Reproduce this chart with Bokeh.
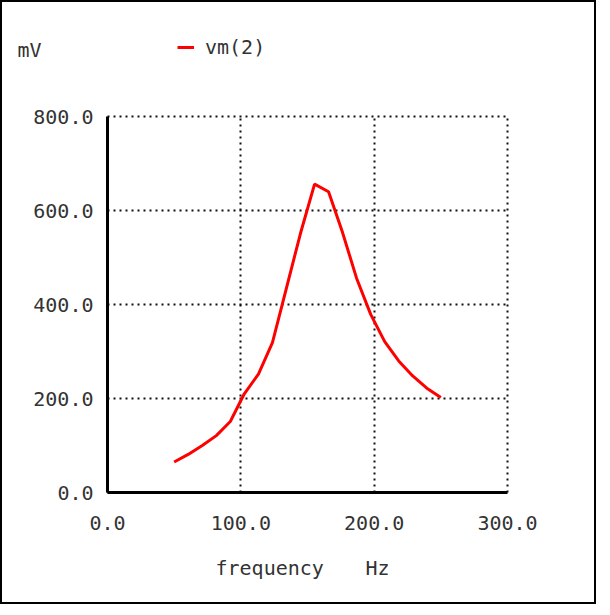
from bokeh.plotting import figure
from bokeh.models import Label, FixedTicker, Range1d, Legend, LegendItem, LinearAxis, Grid
from bokeh.embed import file_html
from bokeh.resources import INLINE

# data (AC sweep, 20 linear points from 50 to 250 Hz)
freq = [50.0, 60.5, 71.1, 81.6, 92.1, 102.6, 113.2, 123.7, 134.2, 144.7,
        155.3, 165.8, 176.3, 186.8, 197.4, 207.9, 218.4, 228.9, 239.5, 250.0]
vm2 = [65, 81, 100, 121, 151, 210, 252, 319, 435, 551,
       656, 640, 553, 456, 379, 321, 280, 248, 222, 202]
x_ticks = [0, 100, 200, 300]
y_ticks = [0, 200, 400, 600, 800]
x_label = "frequency"
x_unit = "Hz"
y_unit = "mV"
series_name = "vm(2)"

FONT = "DejaVu Sans Mono"
FS = "20px"
TXT = "#333333"

W, H = 596, 604
x0, x1 = x_ticks[0], x_ticks[-1]
y0, y1 = y_ticks[0], y_ticks[-1]
# frame covers the whole canvas; the data box sits inside it
px_left, px_w = 105, 400   # canvas px of x=0 and width of 0..300
py_top, py_h = 114, 376    # canvas px of y=800 and height of 0..800
sx = (x1 - x0) / px_w
sy = (y1 - y0) / py_h
xr = Range1d(x0 - px_left * sx, x0 + (W - px_left) * sx)
yr = Range1d(y0 - (H - py_top - py_h) * sy, y1 + py_top * sy)

p = figure(width=W, height=H, output_backend="svg", toolbar_location=None,
           x_range=xr, y_range=yr, x_axis_location=None, y_axis_location=None,
           min_border=0, min_border_left=0, min_border_right=0,
           min_border_top=0, min_border_bottom=0)
p.styles = {"border": "2px solid black"}
p.outline_line_color = None
p.grid.visible = False

xaxis = LinearAxis(ticker=FixedTicker(ticks=x_ticks), fixed_location=y0, bounds=(x0, x1))
yaxis = LinearAxis(ticker=FixedTicker(ticks=y_ticks), fixed_location=x0, bounds=(y0, y1))
for ax in (xaxis, yaxis):
    ax.axis_line_width = 3
    ax.axis_line_color = "black"
    ax.major_tick_line_color = None
    ax.minor_tick_line_color = None
    ax.major_label_text_font = FONT
    ax.major_label_text_font_size = FS
    ax.major_label_text_color = TXT
xaxis.major_label_overrides = {t: f"{t:.1f}" for t in x_ticks}
yaxis.major_label_overrides = {t: f"{t:.1f}" for t in y_ticks}
xaxis.major_label_standoff = 17
yaxis.major_label_standoff = 8
p.add_layout(xaxis, "below")
p.add_layout(yaxis, "left")

grid_style = dict(grid_line_color="#111111", grid_line_width=2, grid_line_dash="2 4")
has_cross = "cross_bounds" in Grid.properties()
for dim, ticks, bnd, cb in ((0, x_ticks, (x0, x1), (y0, y1)), (1, y_ticks, (y0, y1), (x0, x1))):
    kw = dict(dimension=dim, ticker=FixedTicker(ticks=ticks), bounds=bnd, **grid_style)
    if has_cross:
        kw["cross_bounds"] = cb
        p.add_layout(Grid(**kw), "center")
if not has_cross:
    p.segment(x0=x_ticks[1:], y0=[y0] * (len(x_ticks) - 1), x1=x_ticks[1:], y1=[y1] * (len(x_ticks) - 1),
              line_color="#111111", line_width=2, line_dash="2 4")
    p.segment(x0=[x0] * (len(y_ticks) - 1), y0=y_ticks[1:], x1=[x1] * (len(y_ticks) - 1), y1=y_ticks[1:],
              line_color="#111111", line_width=2, line_dash="2 4")

r = p.line(freq, vm2, line_color="red", line_width=3)

legend = Legend(items=[LegendItem(label=series_name, renderers=[r])],
                location=(175, 547), padding=0, margin=0, glyph_width=17, glyph_height=20,
                label_height=20, label_standoff=11, border_line_color=None,
                background_fill_alpha=0, label_text_font=FONT, label_text_font_size=FS,
                label_text_color=TXT)
p.add_layout(legend, "center")

def lab(x, y, text):
    p.add_layout(Label(x=x, y=y, text=text, text_font=FONT, text_font_size=FS,
                       text_color=TXT, text_baseline="middle"))

lab(x0 + (15 - px_left) * sx, y1 + (py_top - 47) * sy, y_unit)
lab(x0 + (213 - px_left) * sx, y0 - (565 - py_top - py_h) * sy, x_label)
lab(x0 + (363 - px_left) * sx, y0 - (565 - py_top - py_h) * sy, x_unit)

open("out.html", "w").write(file_html(p, INLINE))
